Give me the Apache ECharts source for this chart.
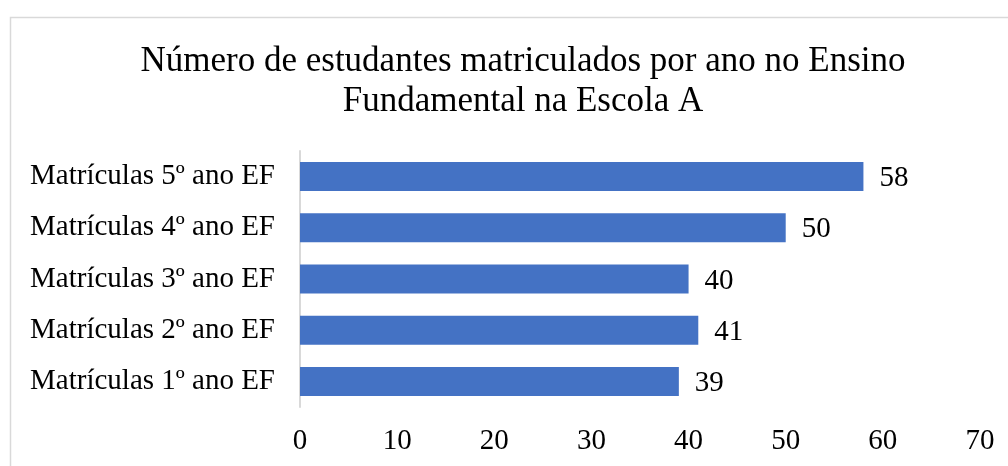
<!DOCTYPE html>
<html><head><meta charset="utf-8">
<script src="https://cdn.jsdelivr.net/npm/echarts@6/dist/echarts.min.js"></script>
<style>html,body{margin:0;padding:0;background:#fff}#c{width:1008px;height:466px}</style>
</head><body><div id="c"></div>
<script>
const categories = ['Matrículas 1º ano EF','Matrículas 2º ano EF','Matrículas 3º ano EF','Matrículas 4º ano EF','Matrículas 5º ano EF'];
const values = [39, 41, 40, 50, 58];
const titleText = 'Número de estudantes matriculados por ano no Ensino\nFundamental na Escola A';
const FONT = '"Liberation Serif", "Times New Roman", serif';
const chart = echarts.init(document.getElementById('c'), null, {renderer:'canvas'});
chart.setOption({
  animation:false,
  backgroundColor:'#fff',
  graphic:[{type:'rect', shape:{x:10.5,y:17.5,width:1100,height:600}, style:{fill:'none',stroke:'#d9d9d9',lineWidth:1.5}}],
  title:{text:titleText,left:518,textAlign:'center',top:37,textStyle:{fontFamily:FONT,fontSize:35,fontWeight:'normal',color:'#000',lineHeight:40}},
  grid:{left:300,right:28,top:151,bottom:59,containLabel:false},
  xAxis:{type:'value',min:0,max:70,interval:10,splitLine:{show:false},axisLine:{show:false},axisTick:{show:false},
    axisLabel:{fontFamily:FONT,fontSize:29,color:'#000',margin:20}},
  yAxis:{type:'category',data:categories,axisTick:{show:false},axisLine:{show:true,lineStyle:{color:'#d9d9d9',width:2}},
    axisLabel:{fontFamily:FONT,fontSize:29,color:'#000',margin:25}},
  series:[{type:'bar',data:values,barWidth:29,itemStyle:{color:'#4472C4'},
    label:{show:true,position:'right',distance:16,offset:[0,2],fontFamily:FONT,fontSize:29,color:'#000'}}]
});
</script></body></html>
